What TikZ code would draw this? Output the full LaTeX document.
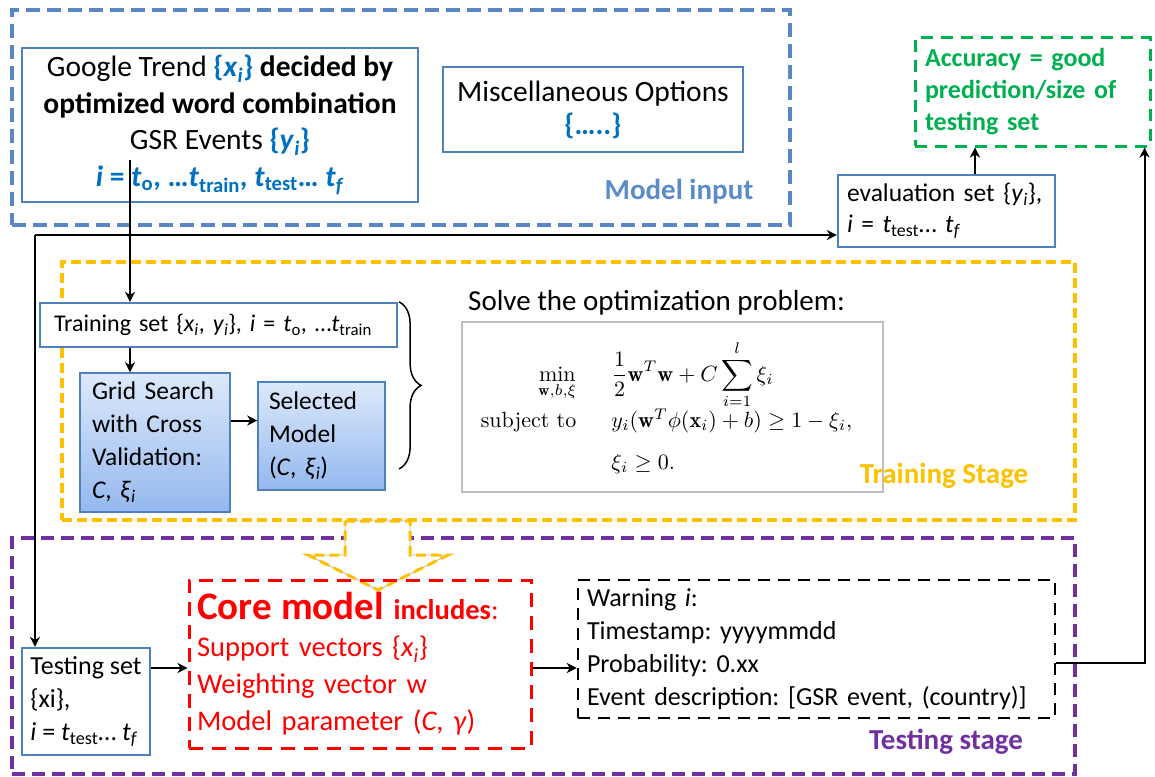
\documentclass[tikz,border=0pt]{standalone}
\usepackage{fontspec}
\usepackage{amsmath}
\newfontfamily\carl{Carlito}
\usetikzlibrary{calc,decorations.pathreplacing,arrows.meta}
\definecolor{frameblue}{HTML}{5A86C4}
\definecolor{boxblue}{HTML}{4F81BD}
\definecolor{tblue}{HTML}{0070C0}
\definecolor{lblue}{HTML}{5B8BC9}
\definecolor{ygold}{HTML}{FFC000}
\definecolor{purp}{HTML}{7030A0}
\definecolor{grn}{HTML}{00B050}
\definecolor{gtop}{HTML}{DDE9FB}
\definecolor{gbot}{HTML}{94B8EE}
\newcommand{\ix}[2]{\textit{#1}\textsubscript{\textit{#2}}}
\newcommand{\tx}[2]{\textit{#1}\textsubscript{#2}}
\begin{document}
\frenchspacing
\begin{tikzpicture}[x=1pt,y=-1pt,
  every node/.style={font=\carl, inner sep=0pt},
  bluebox/.style={draw=boxblue, line width=2.2pt, fill=white},
  gradbox/.style={draw=boxblue, line width=1.5pt, top color=gtop, bottom color=gbot},
  stagelabel/.style={font=\carl\bfseries\fontsize{29}{32}\selectfont},
  arr/.style={line width=2pt, -{Stealth[length=10pt,width=10pt,inset=3pt]}}
]
\useasboundingbox (0,0) rectangle (1155,776);

% ---- frames ----
\node[draw=frameblue, line width=4pt, dash pattern=on 14pt off 7pt, minimum width=778, minimum height=215] (minput) at (401,117.5) {};
\node[draw=ygold, line width=3.5pt, dash pattern=on 10pt off 5pt, minimum width=1013, minimum height=258] (train) at (568.5,391) {};
\node[draw=purp, line width=3.5pt, dash pattern=on 13pt off 7pt, minimum width=1063, minimum height=236] (test) at (543.5,656) {};

% ---- model input ----
\node[bluebox, minimum width=396, minimum height=154, align=center, font=\carl\fontsize{29.5}{36.5}\selectfont] (gt) at (220,125)
 {Google Trend {\color{tblue}\bfseries\{\ix{x}{i}\}} \textbf{decided by}\\
  \textbf{optimized word combination}\\
  GSR Events {\color{tblue}\bfseries\{\ix{y}{i}\}}\\
  {\color{tblue}\bfseries\textit{i} = \tx{t}{o}, …\tx{t}{train}, \tx{t}{test}… \ix{t}{f}}};
\node[bluebox, minimum width=300, minimum height=85, align=center, font=\carl\fontsize{29.5}{33}\selectfont] (misc) at (593,109.5)
 {Miscellaneous Options\\ {\color{tblue}\bfseries\{…..\}}};
\node[stagelabel, text=lblue] (milabel) at (679,192) {Model input};

% ---- evaluation / accuracy ----
\node[draw=grn, line width=3pt, dash pattern=on 12pt off 8pt, minimum width=235, minimum height=108, text width=215, inner xsep=10pt, align=left, text=grn, font=\carl\bfseries\fontsize{26}{32}\selectfont] (acc) at (1032.5,92)
 {Accuracy = good\\ prediction/size of\\ testing set};
\node[bluebox, minimum width=217, minimum height=72, text width=199, inner xsep=9pt, align=left, font=\carl\fontsize{25.5}{31}\selectfont] (eval) at (946.5,211)
 {evaluation set \{\ix{y}{i}\},\\ \textit{i} = \tx{t}{test}… \ix{t}{f}};

% ---- training stage ----
\node[bluebox, minimum width=357, minimum height=44, text width=329, inner xsep=14pt, align=left, font=\carl\fontsize{24}{26}\selectfont] (tset) at (218.5,325)
 {Training set \{\ix{x}{i}, \ix{y}{i}\}, \textit{i} = \tx{t}{o}, …\tx{t}{train}};
\node[gradbox, minimum width=150, minimum height=139, text width=126, inner xsep=12pt, align=left, font=\carl\fontsize{25.5}{33}\selectfont] (grid) at (155,442.5)
 {Grid Search\\ with Cross\\ Validation:\\ \textit{C}, \ix{ξ}{i}};
\node[gradbox, minimum width=127, minimum height=108, text width=105, inner xsep=11pt, align=left, font=\carl\fontsize{25.5}{33}\selectfont] (sel) at (321.5,436)
 {Selected\\ Model\\ (\textit{C}, \ix{ξ}{i})};
\node[anchor=west, font=\carl\fontsize{29}{32}\selectfont] (solve) at (468,303) {Solve the optimization problem:};
\node[draw=black!25, line width=1.5pt, minimum width=421, minimum height=170, fill=white] (opt) at (672.5,407) {};
\node[scale=2.2, font=\rmfamily\fontsize{10}{12}\selectfont] (form) at ($(opt.center)+(-6,2)$)
 {$\begin{array}{r@{\hspace{16pt}}l}
  \displaystyle\min_{\mathbf{w},b,\xi} & \displaystyle\frac{1}{2}\mathbf{w}^T\mathbf{w}+C\sum_{i=1}^{l}\xi_i\\[0pt]
  \mbox{subject to} & y_i(\mathbf{w}^T\phi(\mathbf{x}_i)+b)\geq 1-\xi_i,\\[7pt]
  & \xi_i\geq 0.
  \end{array}$};
\node[stagelabel, text=ygold] (tlabel) at (944,476) {Training Stage};

% ---- testing stage ----
\filldraw[fill=white, draw=black!30, line width=0.8pt]
  (345,521) -- (410,521) -- (410,555) -- (448,555) -- (378,590) -- (308,555) -- (345,555) -- cycle;
\draw[draw=ygold, line width=3pt, dash pattern=on 10pt off 5pt]
  (345,521) -- (410,521) -- (410,555) -- (448,555) -- (378,590) -- (308,555) -- (345,555) -- cycle;
\node[draw=red, line width=3pt, dash pattern=on 14pt off 9pt, minimum width=342, minimum height=168, text width=326, inner xsep=8pt, align=left, text=red, font=\carl\fontsize{28.5}{37}\selectfont] (core) at (360,664)
 {{\bfseries\fontsize{39}{37}\selectfont Core model} {\bfseries includes}:\\
  Support vectors \{\ix{x}{i}\}\\
  Weighting vector w\\
  Model parameter (\textit{C}, \textit{γ})};
\node[bluebox, minimum width=128, minimum height=107, align=left, font=\carl\fontsize{26}{33}\selectfont] (tsset) at (86,701.5)
 {Testing set\\ \{xi\},\\ \textit{i} = \tx{t}{test}… \ix{t}{f}};
\node[draw=black, line width=2.5pt, dash pattern=on 12pt off 8pt, minimum width=477, minimum height=138, text width=459, inner xsep=9pt, align=left, font=\carl\fontsize{26}{33}\selectfont] (warn) at (816.5,649)
 {Warning \textit{i}:\\ Timestamp: yyyymmdd\\ Probability: 0.xx\\ Event description: [GSR event, (country)]};
\node[stagelabel, text=purp] (tslabel) at (946,742) {Testing stage};

% ---- connectors ----
\coordinate (gtout) at (130,160);
\draw[arr] (gtout) -- (gtout |- tset.north);
\draw[arr] (gtout |- tset.south) -- (gtout |- grid.north);
\coordinate (gsout) at ($(grid.east)+(0,-22)$);
\draw[arr] (gsout) -- (gsout -| sel.west);
\coordinate (split) at (35,235);
\draw[arr] (split) -- (split -| eval.west);
\draw[arr] (split) -- (split |- tsset.north);
\coordinate (tsout) at ($(tsset.east)+(0,-33.5)$);
\draw[arr] (tsout) -- (tsout -| core.west);
\coordinate (coreout) at ($(core.east)+(0,4)$);
\draw[arr] (coreout) -- (coreout -| warn.west);
\coordinate (wout) at ($(warn.east)+(0,14)$);
\coordinate (accin) at ($(acc.south east)+(-7,0)$);
\draw[arr] (wout) -| (accin);
\coordinate (evout) at ($(eval.north)+(28.5,0)$);
\draw[arr] (evout) -- (evout |- acc.south);
\draw[line width=1.5pt, decorate, decoration={brace, amplitude=22pt}]
  ($(tset.north east)+(1,0)$) -- ($(tset.north east)+(1,167)$);
\end{tikzpicture}
\end{document}
